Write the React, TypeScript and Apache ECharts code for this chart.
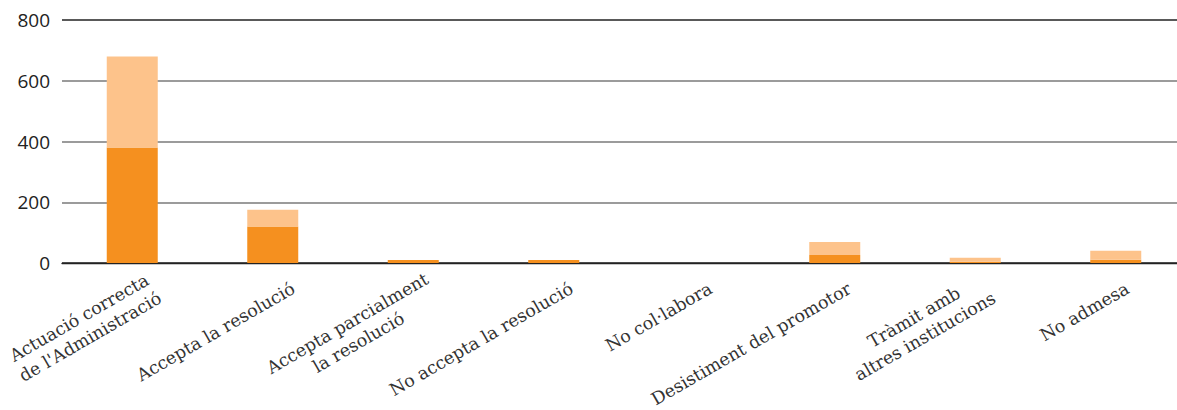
import React, { useEffect, useRef } from "react";
import * as echarts from "echarts";

const categories = [
  "Actuació correcta\nde l'Administració",
  "Accepta la resolució",
  "Accepta parcialment\nla resolució",
  "No accepta la resolució",
  "No col·labora",
  "Desistiment del promotor",
  "Tràmit amb\naltres institucions",
  "No admesa",
];
const darkValues = [380, 120, 10, 10, 0, 26, 4, 11];
const lightValues = [300, 55, 0, 0, 0, 43, 13, 29];
const yTicks = { min: 0, max: 800, interval: 200 };

export default function App() {
  const ref = useRef<HTMLDivElement>(null);
  useEffect(() => {
    if (!ref.current) return;
    const chart = echarts.init(ref.current, undefined, { renderer: "svg" });
    const labelFont = { fontFamily: "DejaVu Serif", fontSize: 17.5, color: "#333", lineHeight: 22 };
    const gridBase = { top: 20, bottom: 147, outerBoundsMode: "none", containLabel: false };
    chart.setOption({
      animation: false,
      grid: [
        { ...gridBase, left: 62, width: 1124 },
        { ...gridBase, left: 85, width: 1112 },
      ],
      xAxis: [
        {
          type: "category",
          gridIndex: 0,
          data: categories,
          axisLine: { show: true, lineStyle: { color: "#222", width: 1.3 } },
          axisTick: { show: false },
          axisLabel: { show: false },
        },
        {
          type: "category",
          gridIndex: 1,
          data: categories,
          axisLine: { show: false },
          axisTick: { show: false },
          axisLabel: {
            interval: 0,
            rotate: 30,
            margin: 24,
            align: "right",
            verticalAlign: "middle",
            hideOverlap: false,
            ...labelFont,
            formatter: (v: string) =>
              v.indexOf("\n") < 0
                ? v
                : v
                    .split("\n")
                    .map((l) => `{c|${l}}`)
                    .join("\n"),
            rich: {
              c: { align: "center", ...labelFont },
            },
          },
        },
      ],
      yAxis: [
        {
          type: "value",
          gridIndex: 0,
          min: yTicks.min,
          max: yTicks.max,
          interval: yTicks.interval,
          axisLine: { show: false },
          axisTick: { show: false },
          axisLabel: {
            margin: 12,
            fontFamily: "Open Sans",
            fontSize: 19,
            color: "#222",
          },
          splitLine: {
            show: true,
            lineStyle: {
              color: ["#222", "#7a7a7a", "#7a7a7a", "#7a7a7a", "#222"],
              width: 1.5,
            },
          },
        },
        { type: "value", gridIndex: 1, show: false, min: 0, max: 800 },
      ],
      series: [
        {
          type: "bar",
          stack: "total",
          data: darkValues,
          barWidth: 51,
          itemStyle: { color: "#F5901F" },
          xAxisIndex: 0,
          yAxisIndex: 0,
        },
        {
          type: "bar",
          stack: "total",
          data: lightValues,
          barWidth: 51,
          itemStyle: { color: "#FDC38B" },
          xAxisIndex: 0,
          yAxisIndex: 0,
        },
      ],
    });
    return () => chart.dispose();
  }, []);
  return (
    <div
      ref={ref}
      style={{ position: "fixed", left: 0, top: 0, width: 1177, height: 410, background: "#fff" }}
    />
  );
}
